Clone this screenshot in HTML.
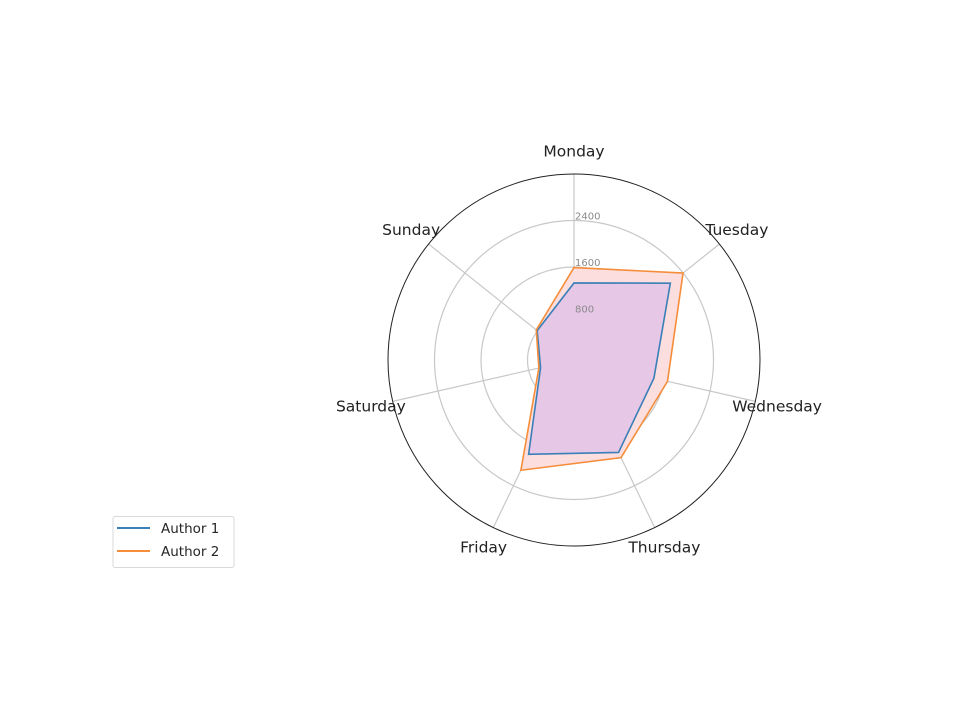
<!DOCTYPE html>
<html><head><meta charset="utf-8"><style>
body{margin:0;background:#fff;}
svg{display:block;font-family:"DejaVu Sans","Liberation Sans",sans-serif;}
</style></head><body>
<svg id="chart" width="959" height="718" viewBox="0 0 959 718">
<g id="grid"></g>
<g id="series"></g>
<g id="labels"></g>
<g>
<rect x="113" y="516.5" width="121" height="51" rx="2" fill="#fff" stroke="#d9d9d9"/>
<line x1="117" y1="528" x2="150" y2="528" stroke="#3b7fb8" stroke-width="2"/>
<text x="161" y="533" font-size="13.5" fill="#262626">Author 1</text>
<line x1="117" y1="551" x2="150" y2="551" stroke="#f58d3a" stroke-width="2"/>
<text x="161" y="556" font-size="13.5" fill="#262626">Author 2</text>
</g>
</svg>
<script>
const categories = ["Monday","Tuesday","Wednesday","Thursday","Friday","Saturday","Sunday"];
const author1 = [1325, 2120, 1410, 1765, 1800, 590, 810];
const author2 = [1590, 2400, 1650, 1865, 2105, 620, 830];
const tickValues = [800, 1600, 2400];
const tickLabels = ["800", "1600", "2400"];
const rMax = 3200;

const NS = "http://www.w3.org/2000/svg";
const cx = 574, cy = 360, R = 186;
const rScale = v => v / rMax * R;
const ang = i => i * 2 * Math.PI / categories.length;
const pt = (i, v) => [cx + rScale(v) * Math.sin(ang(i)), cy - rScale(v) * Math.cos(ang(i))];
function mk(tag, attrs, parent) {
  const e = document.createElementNS(NS, tag);
  for (const k in attrs) e.setAttribute(k, attrs[k]);
  parent.appendChild(e);
  return e;
}
const grid = document.getElementById("grid");
tickValues.forEach((v, k) => {
  const c = mk("circle", {cx: cx, cy: cy, r: rScale(v), fill: "none", stroke: "#c8c8c8", "stroke-width": 1.2}, grid);
  
  
});
categories.forEach((c, i) => {
  const [x, y] = pt(i, rMax);
  const l = mk("line", {x1: cx, y1: cy, x2: x, y2: y, stroke: "#c8c8c8", "stroke-width": 1.2}, grid);
  
  
});
const outer = mk("circle", {cx: cx, cy: cy, r: R, fill: "none", stroke: "#222", "stroke-width": 1}, grid);



const series = document.getElementById("series");
function poly(vals) { return vals.map((v, i) => pt(i, v).join(",")).join(" "); }
const f2 = mk("polygon", {points: poly(author2), fill: "#fcdede", stroke: "none"}, series);


const f1 = mk("polygon", {points: poly(author1), fill: "#e6c7e6", stroke: "none"}, series);


const p1 = mk("polygon", {points: poly(author1), fill: "none", stroke: "#3b7fb8", "stroke-width": 1.6}, series);


const p2 = mk("polygon", {points: poly(author2), fill: "none", stroke: "#f58d3a", "stroke-width": 1.6}, series);



const labels = document.getElementById("labels");
tickValues.forEach((v, k) => {
  const t = mk("text", {x: cx + 1, y: cy - rScale(v) - 1, "font-size": 10, fill: "#8a8a8a"}, labels);
  t.textContent = tickLabels[k];
  
  
});
categories.forEach((c, i) => {
  const [x, y] = pt(i, rMax * 1.12);
  const t = mk("text", {x: x, y: y + 5, "font-size": 15.5, fill: "#222", "text-anchor": "middle"}, labels);
  t.textContent = c;
  
  
});
</script>
</body></html>
